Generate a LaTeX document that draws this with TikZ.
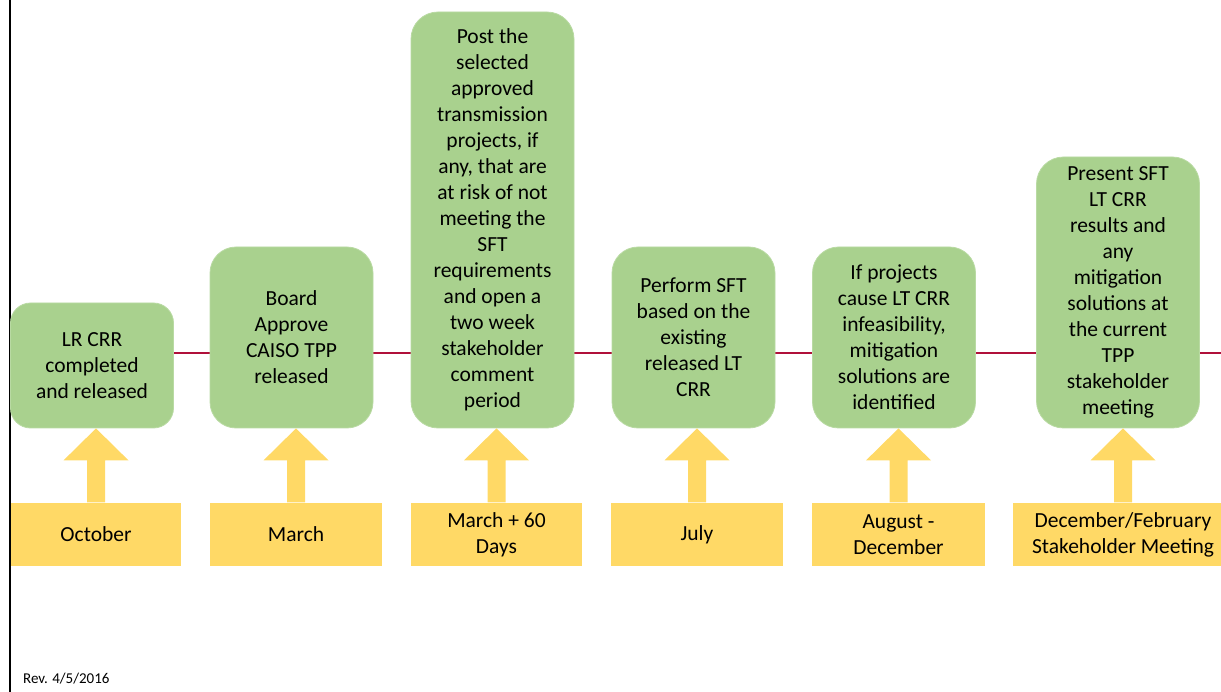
\documentclass[tikz,border=0pt]{standalone}
\usepackage{fontspec}
\setmainfont{Carlito}
\definecolor{boxgreen}{HTML}{A9D18E}
\definecolor{boxedge}{HTML}{B9DAA3}
\definecolor{yel}{HTML}{FFD966}
\definecolor{redline}{HTML}{B0103A}
\newcommand{\yarrow}[2]{%
  \coordinate (t) at (#1.north |- #2.south);
  \coordinate (b) at (#1.north);
  \fill[yel] (t) -- ([xshift=32.5pt,yshift=-32pt]t) -- ([xshift=9pt,yshift=-32pt]t)
    -- ([xshift=9pt,yshift=0.5pt]b) -- ([xshift=-9pt,yshift=0.5pt]b)
    -- ([xshift=-9pt,yshift=-32pt]t) -- ([xshift=-32.5pt,yshift=-32pt]t) -- cycle;}
\begin{document}
\begin{tikzpicture}[x=1pt,y=-1pt,
  evt/.style={fill=boxgreen,draw=boxedge,line width=0.8pt,inner sep=0pt,
    minimum width=163pt,align=center,font=\fontsize{21.5}{26}\selectfont},
  when/.style={fill=yel,inner sep=0pt,minimum height=63pt,align=center,
    font=\fontsize{21.5}{26}\selectfont}]
\useasboundingbox (0,0) rectangle (1221,692);
% axes
\coordinate (rl) at (10,353);
\coordinate (rr) at (1222,353);
\draw[redline,line width=1.6pt] (rl) -- (rr);
\coordinate (vt) at (9.5,0);
\coordinate (vb) at (9.5,692);
\draw[black,line width=2pt] (vt) -- (vb);
% events
\node[evt,minimum height=125pt,rounded corners=20pt] (e1) at (92,365.5)
  {LR CRR\\completed\\and released};
\node[evt,minimum height=181pt,rounded corners=26pt] (e2) at (291.5,337.5)
  {Board\\Approve\\CAISO TPP\\released};
\node[evt,minimum height=416pt,rounded corners=27pt] (e3) at (492.5,220)
  {Post the\\selected\\approved\\transmission\\projects, if\\any, that are\\at risk of not\\meeting the\\SFT\\requirements\\and open a\\two week\\stakeholder\\comment\\period};
\node[evt,minimum height=181pt,rounded corners=26pt] (e4) at (693.5,337.5)
  {Perform SFT\\based on the\\existing\\released LT\\CRR};
\node[evt,minimum height=181pt,rounded corners=26pt] (e5) at (894,337.5)
  {If projects\\cause LT CRR\\infeasibility,\\mitigation\\solutions are\\identified};
\node[evt,minimum height=271pt,rounded corners=27pt] (e6) at (1118,292.5)
  {Present SFT\\LT CRR\\results and\\any\\mitigation\\solutions at\\the current\\TPP\\stakeholder\\meeting};
% dates
\node[when,minimum width=170pt] (d1) at (96,534.5) {October};
\node[when,minimum width=172pt] (d2) at (296,534.5) {March};
\node[when,minimum width=171pt] (d3) at (496.5,534.5) {March + 60\\Days};
\node[when,minimum width=172pt] (d4) at (697,534.5) {July};
\node[when,minimum width=173pt] (d5) at (898.5,534.5) {August -\\December};
\node[when,minimum width=220pt] (d6) at (1123,534.5) {December/February\\Stakeholder Meeting};
% arrows
\yarrow{d1}{e1}
\yarrow{d2}{e2}
\yarrow{d3}{e3}
\yarrow{d4}{e4}
\yarrow{d5}{e5}
\yarrow{d6}{e6}
\node[anchor=base west,inner sep=0pt,font=\fontsize{15}{17}\selectfont] (rev) at (23,683) {Rev. 4/5/2016};
\end{tikzpicture}
\end{document}
